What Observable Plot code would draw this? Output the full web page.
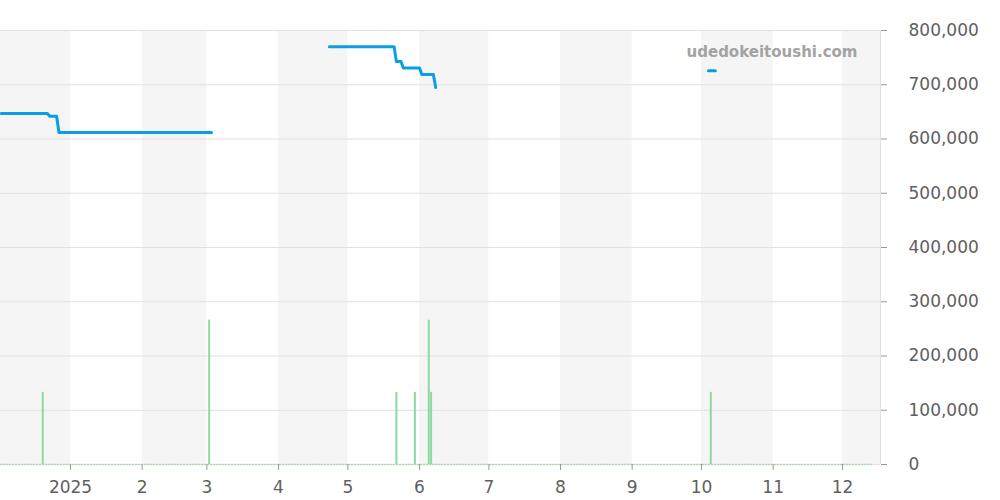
<!DOCTYPE html>
<html>
<head>
<meta charset="utf-8">
<script src="https://cdn.jsdelivr.net/npm/d3@7"></script>
<script src="https://cdn.jsdelivr.net/npm/@observablehq/plot@0.6"></script>
<style>
  html, body { margin: 0; padding: 0; background: #fff; }
  #chart { width: 1000px; height: 500px; }
</style>
</head>
<body>
<div id="chart"></div>
<script>
// ---- data ----
const priceDates1 = ["2024-12-02","2024-12-22","2024-12-23","2024-12-26","2024-12-27","2025-03-03"];
const priceValues1 = [647000, 647000, 642000, 642000, 612000, 612000];
const priceDates2 = ["2025-04-23","2025-05-21","2025-05-22","2025-05-24","2025-05-25","2025-06-01","2025-06-02","2025-06-07","2025-06-08"];
const priceValues2 = [770000, 770000, 743000, 743000, 731000, 731000, 719000, 719000, 695000];
const priceDates3 = ["2025-10-04","2025-10-07"];
const priceValues3 = [726000, 726000];

const volumeDates = ["2024-12-20","2025-03-02","2025-05-22","2025-05-30","2025-06-05","2025-06-06","2025-10-05"];
const volumeValues = [133000, 266000, 133000, 133000, 266000, 133000, 133000];

const bandStarts = ["2024-12-01","2025-02-01","2025-04-01","2025-06-01","2025-08-01","2025-10-01","2025-12-01"];
const bandEnds   = ["2025-01-01","2025-03-01","2025-05-01","2025-07-01","2025-09-01","2025-11-01","2026-01-01"];

const monthTicks = ["2025-01-01","2025-02-01","2025-03-01","2025-04-01","2025-05-01","2025-06-01",
                    "2025-07-01","2025-08-01","2025-09-01","2025-10-01","2025-11-01","2025-12-01"];
const tickLabels = ["2025","2","3","4","5","6","7","8","9","10","11","12"];
const yTicks = [0, 100000, 200000, 300000, 400000, 500000, 600000, 700000, 800000];
const xDomain = ["2024-12-01T17:09:00Z", "2025-12-17T10:34:00Z"];
const baselineEnd = "2025-12-14";
const watermark = "udedokeitoushi.com";

// ---- build tables ----
const D = s => new Date(s);
const price = [
  ...priceDates1.map((d, i) => ({date: D(d), v: priceValues1[i], seg: 1})),
  ...priceDates2.map((d, i) => ({date: D(d), v: priceValues2[i], seg: 2})),
  ...priceDates3.map((d, i) => ({date: D(d), v: priceValues3[i], seg: 3}))
];
const volume = volumeDates.map((d, i) => ({date: D(d), v: volumeValues[i]}));
const bands = bandStarts.map((s, i) => ({x1: D(s), x2: D(bandEnds[i])}));
const mTicks = monthTicks.map(D);
const dom = xDomain.map(D);
const labelFor = d => tickLabels[mTicks.findIndex(t => +t === +d)];

const chart = Plot.plot({
  width: 1000,
  height: 500,
  marginLeft: 0,
  marginRight: 120,
  marginTop: 30,
  marginBottom: 36,
  style: {fontFamily: "DejaVu Sans", background: "#fff"},
  x: {type: "utc", domain: dom, label: null},
  y: {domain: [0, 800000], label: null},
  marks: [
    Plot.rect(bands, {x1: "x1", x2: "x2", fill: "#f5f5f5", clip: true}),
    Plot.gridY(yTicks, {stroke: "#e0e0e0", strokeOpacity: 1}),
    Plot.ruleX([dom[1]], {stroke: "#e0e0e0", strokeOpacity: 1}),
    Plot.ruleY([0], {x1: dom[0], x2: D(baselineEnd), stroke: "#a9dcb3", strokeWidth: 1.5, strokeDasharray: "2,1"}),
    Plot.ruleX(volume, {x: "date", y1: 0, y2: "v", stroke: "#8fd9a0", strokeWidth: 2}),
    Plot.line(price, {x: "date", y: "v", z: "seg", stroke: "#0a9fe5", strokeWidth: 3}),
    Plot.text([watermark], {frameAnchor: "top-right", dx: -23, dy: 22, lineAnchor: "middle", textAnchor: "end",
      fontSize: 15, fontWeight: "bold", fill: "#a3a3a3"}),
    Plot.axisX(mTicks, {tickSize: 6, tickFormat: () => "", stroke: "#999", color: "#999"}),
    Plot.axisX(mTicks, {tickSize: 0, tickPadding: 16, tickFormat: labelFor, color: "#606060", fontSize: 17}),
    Plot.axisY(yTicks, {anchor: "right", tickSize: 6, tickFormat: () => "", color: "#999"}),
    Plot.axisY(yTicks, {anchor: "right", tickSize: 0, tickPadding: 28, tickFormat: d3.format(","), color: "#606060", fontSize: 17})
  ]
});
document.getElementById("chart").appendChild(chart);
</script>
</body>
</html>
